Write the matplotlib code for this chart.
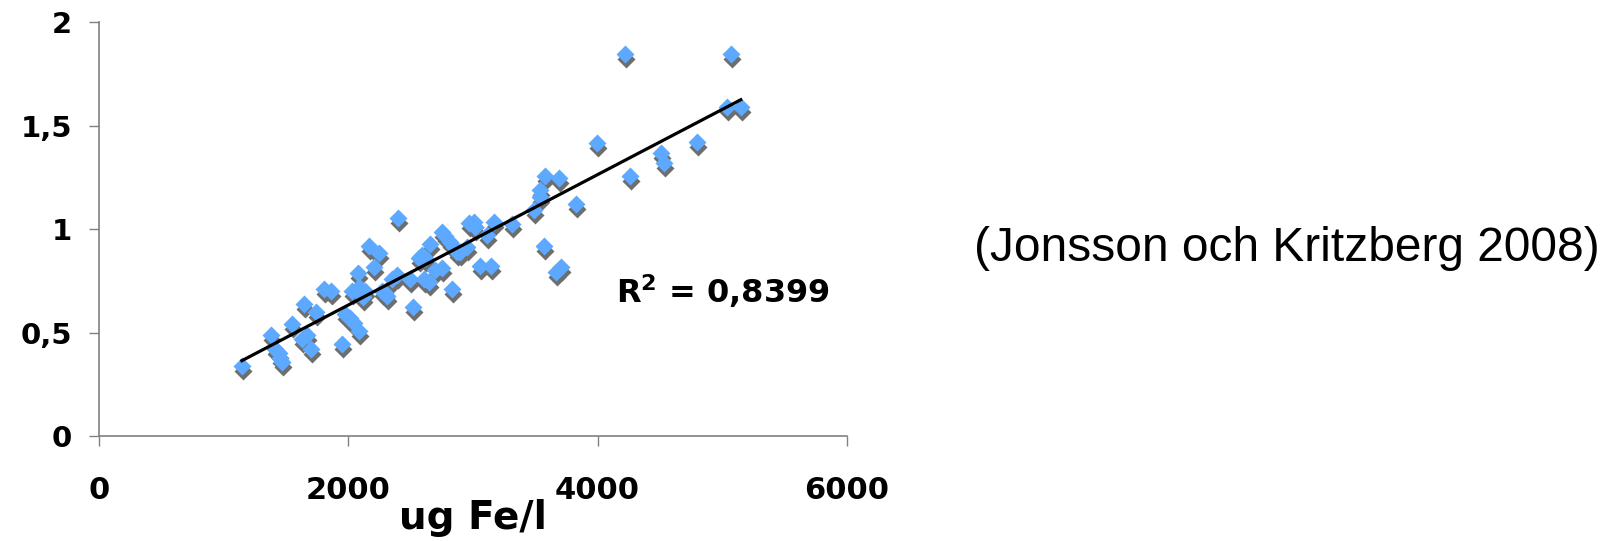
import numpy as np
import matplotlib.pyplot as plt
from matplotlib.transforms import offset_copy

# iron concentration (ug Fe/l) and the measured response
fe = [1146, 1379, 1414, 1440, 1454, 1466, 1548, 1641, 1628, 1668,
      1703, 1740, 1802, 1863, 1949, 1976, 2016, 2043, 2083, 2030,
      2083, 2137, 2120, 2075, 2209, 2399, 2169, 2243, 2271, 2297,
      2311, 2351, 2391, 2498, 2519, 2565, 2592, 2619, 2605, 2645,
      2659, 2699, 2752, 2752, 2779, 2819, 2846, 2873, 2833, 2966,
      2900, 2953, 3007, 3020, 3060, 3141, 3114, 3167, 3315, 3489,
      3542, 3542, 3582, 3689, 3569, 3663, 3703, 3823, 3998, 4219,
      4259, 4512, 4533, 4801, 5042, 5069, 5149]
val = [0.34, 0.49, 0.42, 0.40, 0.375, 0.36, 0.54, 0.64, 0.47, 0.49,
       0.42, 0.60, 0.71, 0.70, 0.445, 0.59, 0.57, 0.545, 0.51, 0.70,
       0.72, 0.70, 0.67, 0.79, 0.815, 1.055, 0.92, 0.885, 0.70, 0.69,
       0.675, 0.76, 0.78, 0.76, 0.625, 0.86, 0.875, 0.86, 0.76, 0.745,
       0.93, 0.80, 0.81, 0.985, 0.965, 0.94, 0.915, 0.89, 0.71, 1.03,
       0.89, 0.915, 1.035, 1.01, 0.82, 0.82, 0.97, 1.035, 1.025, 1.09,
       1.19, 1.155, 1.255, 1.245, 0.92, 0.795, 0.815, 1.12, 1.415, 1.845,
       1.255, 1.37, 1.32, 1.42, 1.59, 1.845, 1.59]

xticks = [0, 2000, 4000, 6000]
yticks = [0, 0.5, 1, 1.5, 2]
ytick_labels = ['0', '0,5', '1', '1,5', '2']
r2_text = r'$\mathbf{R^{2}}$ = 0,8399'
source = '(Jonsson och Kritzberg 2008)'

fe = np.array(fe)
val = np.array(val)

fig = plt.figure(figsize=(16.13, 5.41), dpi=100)
ax = fig.add_axes([0.0614, 0.194, 0.4636, 0.765])

# grey drop shadow under each marker, then the blue diamonds
shadow = offset_copy(ax.transData, fig=fig, x=1, y=-5, units='dots')
ax.plot(fe, val, 'D', ms=9.5, color='#6E6E6E', mec='none', transform=shadow)
ax.plot(fe, val, 'D', ms=9.5, color='#5DA9FF', mec='none')

# linear trend line
k, m = np.polyfit(fe, val, 1)
xl = np.array([fe.min(), fe.max()])
ax.plot(xl, k * xl + m, color='black', lw=2.3)

ax.set_xlim(0, 6000)
ax.set_ylim(0, 2)
ax.set_xticks(xticks)
ax.set_xticklabels([str(t) for t in xticks])
ax.set_yticks(yticks)
ax.set_yticklabels(ytick_labels)

for s in ['top', 'right']:
    ax.spines[s].set_visible(False)
for s in ['left', 'bottom']:
    ax.spines[s].set_color('#808080')
    ax.spines[s].set_linewidth(1.2)

ax.tick_params(axis='both', direction='out', length=7.5, width=1.0, color='#808080')
ax.tick_params(axis='x', pad=21)
ax.tick_params(axis='y', pad=12)
for lab in ax.get_xticklabels():
    lab.set_fontsize(22)
    lab.set_fontweight('bold')
for lab in ax.get_yticklabels():
    lab.set_fontsize(21)
    lab.set_fontweight('bold')

ax.set_xlabel('ug Fe/l', fontsize=28, fontweight='bold', labelpad=-4)

ax.text(4145, 0.70, r2_text, fontsize=23, fontweight='bold', ha='left', va='center')

fig.text(0.604, 0.54, source, fontsize=34.5, family='Liberation Sans',
         ha='left', va='center')

fig.savefig('out.png', dpi=100)
